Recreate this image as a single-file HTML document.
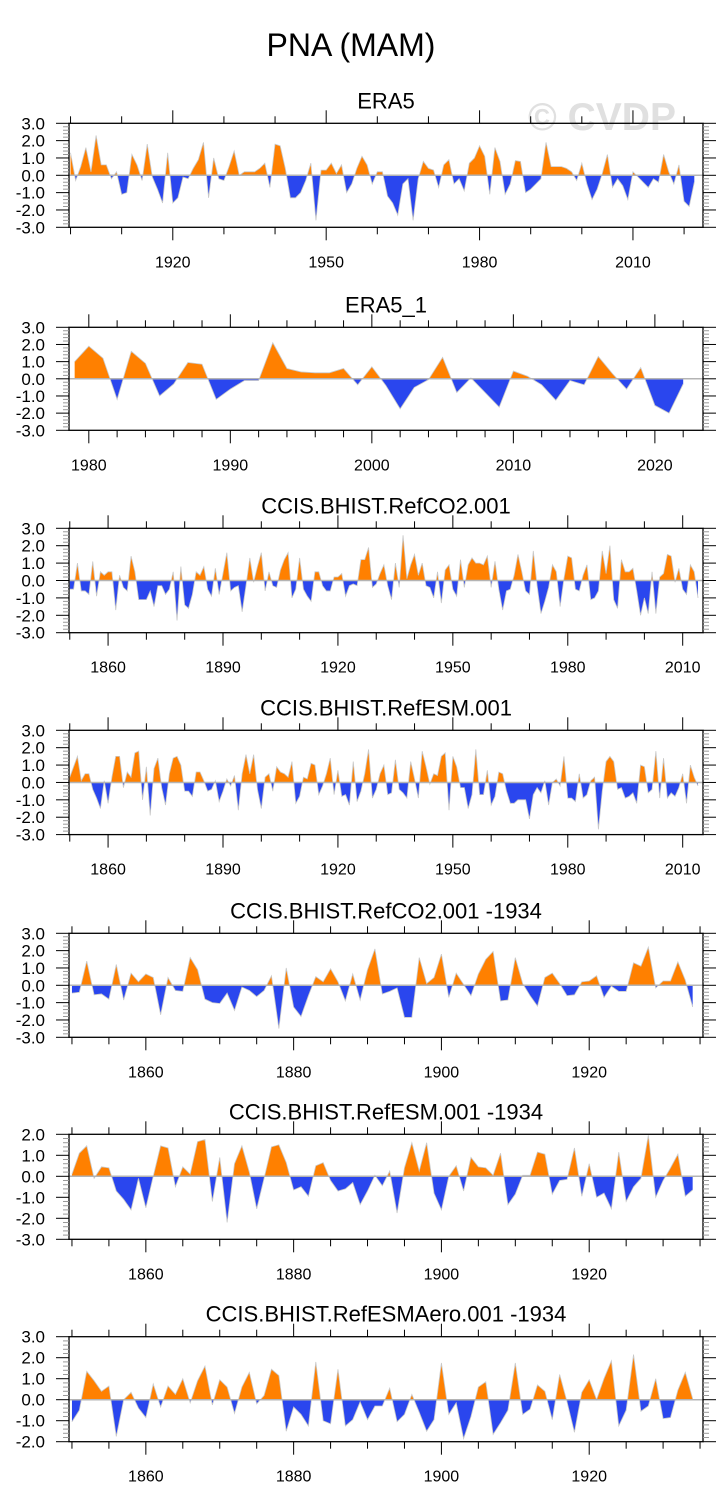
<!DOCTYPE html>
<html><head><meta charset="utf-8"><title>PNA (MAM)</title>
<style>
html,body{margin:0;padding:0;background:#fff;}
svg{display:block;font-family:"Liberation Sans",Arial,sans-serif;}
</style></head>
<body>
<svg id="chart" width="728" height="1510" viewBox="0 0 728 1510" xmlns="http://www.w3.org/2000/svg">
<text x="351" y="56" font-size="32" text-anchor="middle" fill="#000">PNA (MAM)</text>
<text x="602" y="130" font-size="39" font-weight="bold" text-anchor="middle" fill="#e0e0e0">© CVDP</text>
</svg>
<script>
// ---- data arrays ----
const era5Start = 1900;
const era5Values = [1.3,-0.3,0.5,1.6,0.2,2.3,0.6,0.6,-0.2,0.2,-1.1,-1.0,1.2,0.6,-0.3,1.8,-0.1,-0.8,-1.6,1.3,
-1.6,-1.3,-0.1,-0.2,0.4,0.9,1.9,-1.3,1.0,-0.2,-0.3,0.5,1.4,0.0,0.2,0.2,0.2,0.4,0.7,-0.7,
1.8,1.7,0.4,-1.3,-1.3,-1.0,-0.3,0.7,-2.6,0.3,0.3,0.7,0.1,0.6,-1.0,-0.5,0.4,1.1,0.6,-0.5,
0.2,0.2,-1.2,-1.6,-2.3,-0.5,-0.2,-2.6,-0.2,0.8,0.4,0.3,-0.7,0.6,0.9,-0.5,-0.2,-0.9,0.7,
1.0,1.7,1.1,-1.1,1.6,0.8,-1.1,-0.5,0.85,0.8,-1.0,-0.8,-0.5,-0.2,1.9,0.5,0.5,0.5,0.4,0.2,
-0.3,0.7,-0.5,-1.4,-0.8,0.1,1.2,-0.7,-0.2,-0.6,-1.4,0.2,-0.1,-0.4,-0.7,-0.2,-0.4,1.2,0.2,-0.5,
0.6,-1.5,-1.8,-0.4];
const era51Start = 1979;
const era51Values = [1.0,1.9,1.2,-1.2,1.6,0.9,-1.0,-0.3,0.95,0.85,-1.2,-0.6,-0.1,-0.1,2.1,0.6,0.4,0.35,0.35,0.6,
-0.35,0.7,-0.4,-1.75,-0.5,-0.05,1.25,-0.8,0.05,-0.8,-1.65,0.45,0.15,-0.35,-1.25,-0.1,-0.35,1.3,0.3,-0.6,
0.65,-1.55,-2.0,-0.3];
const co2Start = 1850;
const co2Values = [-0.5,-0.5,1.0,-0.6,-0.6,-0.8,1.1,-0.9,0.5,0.3,0.5,0.5,-1.7,0.3,-0.4,-0.6,1.4,0.5,-1.1,-1.1,
-1.1,-0.6,-1.5,-0.3,-0.3,-0.8,-0.5,0.5,-2.3,0.8,-1.4,-1.6,-0.8,0.5,0.3,0.8,-0.5,-0.9,0.7,-0.8,
0.4,1.6,-0.6,-0.4,-0.3,-1.8,-0.3,1.3,-0.1,0.8,1.6,-0.6,0.5,-0.3,-0.4,0.6,1.2,1.6,-1.0,-0.5,
1.3,-0.5,-0.9,-1.2,0.5,0.5,-0.3,-0.6,-0.6,0.2,0.2,0.4,-0.9,-0.3,-0.2,-0.3,1.2,1.2,1.9,-0.4,
-0.2,0.4,0.9,-0.3,-1.1,1.0,-0.4,2.6,0.1,0.9,1.5,0.3,1.0,-0.3,-0.4,-1.0,0.5,-1.3,0.6,0.9,
-0.5,-0.9,1.2,-0.4,0.9,1.3,1.0,1.0,0.9,1.4,-0.4,1.1,-0.5,-1.7,-0.6,-0.5,0.3,1.5,0.5,-0.6,
-0.8,1.7,-0.3,-1.9,-1.2,-0.4,0.9,0.5,-1.5,0.1,1.4,1.3,-0.5,-0.6,0.3,0.9,-1.1,-1.0,-0.6,1.7,
0.4,2.0,-1.1,-1.6,1.2,0.5,0.5,0.7,-0.6,-2.0,-1.0,-1.9,0.5,-1.9,0.2,0.4,1.5,1.4,-0.1,0.7,
-0.5,-0.8,0.9,0.5,-1.0];
const esmStart = 1850;
const esmValues = [0.3,0.9,1.5,0.1,0.5,0.5,-0.4,-0.9,-1.5,0.1,-1.2,0.3,1.5,1.5,-0.3,0.6,0.3,1.7,1.8,-1.0,
0.9,-1.9,0.8,1.4,-0.3,-1.3,0.5,1.4,1.5,1.0,-0.5,-0.5,-0.8,0.6,0.6,0.1,-0.5,-0.4,0.1,-1.1,
-0.5,0.2,-0.2,0.4,-1.6,0.5,1.6,0.5,1.6,-0.4,-1.5,0.3,0.5,-0.5,0.9,0.6,0.5,0.3,1.2,-1.2,
-0.8,0.3,0.2,1.1,1.0,-0.7,-0.2,0.5,1.4,-0.7,0.7,-0.8,-0.7,-1.3,1.2,-1.1,-0.5,0.5,1.9,-0.9,
-0.4,0.5,1.0,-0.7,-0.6,1.3,-0.4,-0.6,-0.9,1.2,0.2,-0.9,1.8,0.9,-0.1,0.5,0.4,1.5,1.7,-1.6,
1.5,0.9,-0.3,-0.3,-1.5,-0.7,1.9,-0.7,-0.7,0.7,-1.3,-0.8,0.6,0.5,-0.5,-1.2,-1.2,-1.0,-1.0,-1.0,
-2.1,-0.7,-0.3,-0.6,0.1,-1.3,0.0,0.2,-0.2,1.5,-0.9,-0.9,-1.1,0.5,-0.9,-0.7,0.1,0.3,-2.7,-0.5,
1.2,1.5,1.2,-0.4,-0.3,-0.9,-0.8,-0.6,-1.2,1.0,0.9,-0.6,-0.4,1.8,-0.9,1.4,-0.9,-0.6,-0.8,-0.3,
0.5,-1.2,1.0,0.3,-0.2];
const co2b34Start = 1850;
const co2b34Values = [-0.45,-0.4,1.4,-0.55,-0.5,-0.8,1.2,-0.85,0.7,0.2,0.65,0.45,-1.7,0.45,-0.3,-0.35,1.6,0.9,-0.8,-1.0,
-1.05,-0.45,-1.45,-0.1,-0.3,-0.65,-0.3,0.55,-2.5,1.0,-1.25,-1.8,-0.6,0.5,0.2,0.95,0.2,-0.9,0.65,-0.85,
0.9,2.1,-0.5,-0.35,-0.15,-1.85,-1.85,1.6,0.1,0.45,1.8,-0.7,0.7,0.05,-0.6,0.65,1.5,1.95,-0.9,-0.85,
1.6,0.1,-0.6,-1.2,0.45,0.7,0.1,-0.6,-0.55,0.2,0.25,0.55,-0.7,-0.05,-0.35,-0.35,1.3,1.1,2.2,-0.15,
0.25,0.25,1.35,0.3,-1.25];
const esmb34Start = 1850;
const esmb34Values = [0.1,1.1,1.45,-0.1,0.45,0.4,-0.7,-1.1,-1.6,-0.1,-1.5,0.0,1.45,1.35,-0.5,0.45,0.1,1.65,1.75,-1.2,
0.9,-2.2,0.6,1.45,0.2,-1.55,-0.1,1.4,1.5,0.65,-0.65,-0.5,-0.95,0.5,0.65,-0.2,-0.7,-0.6,-0.3,-1.35,
-0.7,0.05,-0.45,0.25,-1.75,0.4,1.6,0.25,1.6,-0.8,-1.6,0.0,0.5,-0.7,0.9,0.45,0.4,0.05,1.1,-1.35,
-0.85,0.05,0.05,1.15,1.05,-0.85,-0.2,-0.15,1.35,-0.95,0.6,-1.0,-0.8,-1.55,1.15,-1.2,-0.5,-0.1,1.95,-1.0,
-0.2,0.4,1.05,-0.95,-0.65];
const aeroStart = 1850;
const aeroValues = [-1.05,-0.5,1.35,0.9,0.4,0.65,-1.75,0.0,0.35,-0.4,-0.85,0.75,-0.35,0.65,0.25,1.0,-0.15,0.9,1.6,-0.25,
0.95,0.6,-0.65,0.6,1.3,-0.2,0.2,1.45,1.15,-1.5,-0.35,-0.7,-1.25,1.8,-1.0,-1.15,1.45,-1.25,-0.95,-0.1,
-0.95,-0.3,-0.3,0.55,-1.05,-0.7,0.25,-0.6,-1.5,-0.95,1.75,-0.7,-0.15,-1.85,-0.8,0.6,0.85,-1.65,-1.1,-0.5,
1.75,-0.7,-0.45,0.7,0.4,-0.95,1.2,-0.1,-1.55,0.35,0.95,0.0,1.0,1.85,-1.25,-0.5,2.15,-0.55,-0.3,1.0,
-0.9,-0.85,0.45,1.3,0.05];
const panelTitles = ["ERA5","ERA5_1","CCIS.BHIST.RefCO2.001","CCIS.BHIST.RefESM.001","CCIS.BHIST.RefCO2.001 -1934","CCIS.BHIST.RefESM.001 -1934","CCIS.BHIST.RefESMAero.001 -1934"];
const yTickLabels = ["3.0","2.0","1.0","0.0","-1.0","-2.0","-3.0"];

// ---- layout ----
const NS = "http://www.w3.org/2000/svg";
const svg = document.getElementById("chart");
const BOX_L = 69, BOX_R = 703;
const panels = [
 {name:"era5", top:123.3, h:104, ymax:3, ymin:-3, start:era5Start, vals:era5Values, xmin:1899.7, xmax:2023.7, major:30, majorFrom:1920, minor:10},
 {name:"era5-1", top:327.3, h:103, ymax:3, ymin:-3, start:era51Start, vals:era51Values, xmin:1978.6, xmax:2023.4, major:10, majorFrom:1980, minor:2},
 {name:"refco2", top:528.3, h:104.4, ymax:3, ymin:-3, start:co2Start, vals:co2Values, xmin:1849.8, xmax:2015.3, major:30, majorFrom:1860, minor:10},
 {name:"refesm", top:730.3, h:104.3, ymax:3, ymin:-3, start:esmStart, vals:esmValues, xmin:1849.8, xmax:2015.3, major:30, majorFrom:1860, minor:10},
 {name:"refco2-1934", top:933.3, h:104, ymax:3, ymin:-3, start:co2b34Start, vals:co2b34Values, xmin:1849.6, xmax:1935.4, major:20, majorFrom:1860, minor:5},
 {name:"refesm-1934", top:1134.3, h:105, ymax:2, ymin:-3, start:esmb34Start, vals:esmb34Values, xmin:1849.6, xmax:1935.4, major:20, majorFrom:1860, minor:5},
 {name:"refesmaero-1934", top:1336.7, h:105, ymax:3, ymin:-2, start:aeroStart, vals:aeroValues, xmin:1849.6, xmax:1935.4, major:20, majorFrom:1860, minor:5}
];

function mk(tag, attrs, parent){
  const e = document.createElementNS(NS, tag);
  for (const k in attrs) e.setAttribute(k, attrs[k]);
  (parent||svg).appendChild(e);
  return e;
}

panels.forEach((p, pi) => {
  const bot = p.top + p.h;
  const xs = yr => BOX_L + (yr - p.xmin) / (p.xmax - p.xmin) * (BOX_R - BOX_L);
  const ys = v => p.top + (p.ymax - v) / (p.ymax - p.ymin) * p.h;
  const g = mk("g", {});
  
  

  const t = mk("text", {x:(BOX_L+BOX_R)/2, y:p.top-15, "font-size":22, "text-anchor":"middle", fill:"#000"}, g);
  t.textContent = panelTitles[pi];
  
  

  const y0 = ys(0);
  const defs = mk("defs", {}, g);
  const cpA = mk("clipPath", {id:"ca"+pi}, defs);
  mk("rect", {x:BOX_L, y:p.top, width:BOX_R-BOX_L, height:y0-p.top}, cpA);
  const cpB = mk("clipPath", {id:"cb"+pi}, defs);
  mk("rect", {x:BOX_L, y:y0, width:BOX_R-BOX_L, height:bot-y0}, cpB);

  let pts = [];
  p.vals.forEach((v,i) => pts.push(xs(p.start+i).toFixed(2)+","+ys(v).toFixed(2)));
  const x0 = xs(p.start), x1 = xs(p.start + p.vals.length - 1);
  const poly = x0.toFixed(2)+","+y0.toFixed(2)+" "+pts.join(" ")+" "+x1.toFixed(2)+","+y0.toFixed(2);
  const fa = mk("polygon", {points:poly, fill:"#ff8000", "clip-path":"url(#ca"+pi+")"}, g);
  
  
  const fb = mk("polygon", {points:poly, fill:"#2a46ee", "clip-path":"url(#cb"+pi+")"}, g);
  
  
  const ln = mk("polyline", {points:pts.join(" "), fill:"none", stroke:"#c8c8c8", "stroke-width":0.8}, g);
  
  
  const zl = mk("line", {x1:BOX_L, x2:BOX_R, y1:y0, y2:y0, stroke:"#b4b4b4", "stroke-width":1.5}, g);
  
  

  const bx = mk("rect", {x:BOX_L, y:p.top, width:BOX_R-BOX_L, height:p.h, fill:"none", stroke:"#000", "stroke-width":1.3}, g);
  
  

  for (let k = Math.round(p.ymin*5); k <= Math.round(p.ymax*5); k++) {
    const v = k/5, yy = ys(v), major = (k % 5 === 0);
    const L = major ? 13 : 6;
    const col = major ? "#000" : "#999";
    mk("line", {x1:BOX_L-L, x2:BOX_L, y1:yy, y2:yy, stroke:col, "stroke-width":1}, g);
    mk("line", {x1:BOX_R, x2:BOX_R+L, y1:yy, y2:yy, stroke:col, "stroke-width":1}, g);
    if (major) {
      const lbl = yTickLabels[3 - v];
      const tt = mk("text", {x:45, y:yy+6, "font-size":17, "text-anchor":"end", fill:"#000"}, g);
      tt.textContent = lbl;
      
      
    }
  }
  const ystart = Math.ceil(p.xmin / p.minor) * p.minor;
  for (let yr = ystart; yr <= p.xmax; yr += p.minor) {
    const xx = xs(yr);
    const major = ((yr - p.majorFrom) % p.major === 0) && yr >= p.majorFrom;
    const L = major ? 13 : 7;
    mk("line", {x1:xx, x2:xx, y1:bot, y2:bot+L, stroke:"#000", "stroke-width":1}, g);
    mk("line", {x1:xx, x2:xx, y1:p.top-L, y2:p.top, stroke:"#000", "stroke-width":1}, g);
    if (major) {
      const tt = mk("text", {x:xx, y:bot+40, "font-size":16, "text-anchor":"middle", fill:"#000"}, g);
      tt.textContent = String(yr);
      
      
    }
  }
});
</script>
</body></html>
